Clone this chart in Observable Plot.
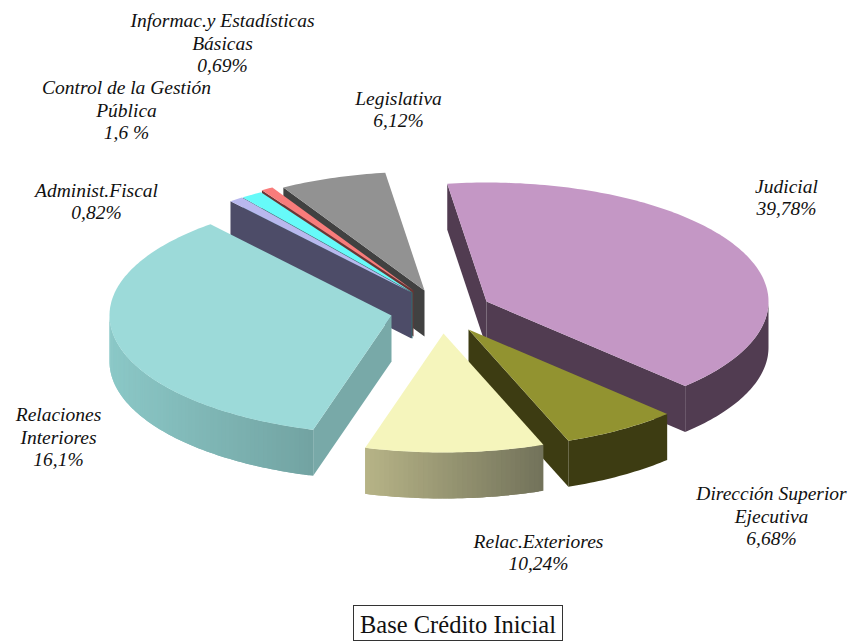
<!DOCTYPE html>
<html><head><meta charset="utf-8">
<script src="https://cdn.jsdelivr.net/npm/d3@7"></script>
<script src="https://cdn.jsdelivr.net/npm/@observablehq/plot@0.6"></script>
<style>
html,body{margin:0;padding:0;background:#fff;overflow:hidden}
#chart svg{display:block}
#cap{position:absolute;left:353px;top:605px;width:208px;height:34px;border:1px solid #333;font:24.5px "Liberation Serif",serif;color:#111;text-align:center;line-height:37px;white-space:nowrap}
</style></head><body>
<div id="chart"></div>
<div id="cap">Base Crédito Inicial</div>
<script>
// Data, clockwise from the first slice
const categories = ["Judicial","Dirección Superior Ejecutiva","Relac.Exteriores","Relaciones Interiores","Administ.Fiscal","Control de la Gestión Pública","Informac.y Estadísticas Básicas","Legislativa"];
const shares = [39.78, 6.68, 10.24, 34.43, 0.82, 1.24, 0.69, 6.12]; // drawn size of each slice
const labels = ["Judicial\n39,78%","Dirección Superior\nEjecutiva\n6,68%","Relac.Exteriores\n10,24%","Relaciones\nInteriores\n16,1%","Administ.Fiscal\n0,82%","Control de la Gestión\nPública\n1,6 %","Informac.y Estadísticas\nBásicas\n0,69%","Legislativa\n6,12%"];
// Styling and pie layout
const topColors = ["#C497C5","#929330","#F5F5BC","#9CDAD9","#B9B8EE","#66FAF9","#F97C7B","#929292"];
const cutColors = ["#513C51","#3D3C12","#72725A","#78A9A8","#4D4C68","#2C6F6F","#6C3534","#414141"];
const rimLeft   = ["#513C51","#3D3C12","#B7B487","#8BC8C7","#4D4C68","#2C6F6F","#6C3534","#414141"];
const rimRight  = ["#513C51","#3D3C12","#72725A","#72A3A2","#4D4C68","#2C6F6F","#6C3534","#414141"];
const explodeX = [55, 37, 12, -40, -20, -19, -18, -7];
const explodeY = [-11, 17, 21, 3, -20, -20, -22, -22];
const labelX = [786, 771, 538, 58, 96, 126, 222, 398];
const labelY = [196, 515, 551, 436, 200, 109, 42, 108];
const drawOrder = [7, 6, 5, 4, 3, 0, 1, 2];
const W = 854, H = 605, cx = 431, cy = 312, rx = 282, ry = 119, depth = 46, firstAngle = -8;

const total = d3.sum(shares);
let acc = firstAngle;
const slices = shares.map((v, i) => {
  const a0 = acc; acc += v / total * 360;
  return {i, a0, a1: acc, ax: cx + explodeX[i], ay: cy + explodeY[i]};
});
const sind = a => Math.sin(a * Math.PI / 180);
const rim = (s, a) => {
  const t = a * Math.PI / 180;
  return [s.ax + rx * Math.sin(t), s.ay - ry * Math.cos(t)];
};
const faces = [];
let fid = 0;
const addFace = (pts, color) => {
  const id = fid++;
  [...pts, pts[0]].forEach(([x, y]) => faces.push({id, x, y, color}));
};
const arcPts = (s, a0, a1) => {
  const n = Math.max(2, Math.ceil(Math.abs(a1 - a0)));
  return d3.range(n + 1).map(k => rim(s, a0 + (a1 - a0) * k / n));
};
const cutFace = (s, a, color) => {
  const [px, py] = rim(s, a);
  addFace([[s.ax, s.ay], [px, py], [px, py + depth], [s.ax, s.ay + depth]], color);
};
const wall = (pts, color) => addFace([...pts, ...pts.slice().reverse().map(([x, y]) => [x, y + depth])], color);
for (const i of drawOrder) {
  const s = slices[i];
  // only the cut faces that turn toward the viewer
  if (sind(s.a0) < 0) cutFace(s, s.a0, cutColors[i]);
  if (sind(s.a1) > 0) cutFace(s, s.a1, cutColors[i]);
  // outer wall (front half only), shaded left to right
  const lo = Math.max(s.a0, 90), hi = Math.min(s.a1, 270);
  if (hi > lo) {
    const pts = arcPts(s, lo, hi);
    if (rimLeft[i] === rimRight[i]) {
      wall(pts, rimLeft[i]);
    } else {
      const xs = pts.map(p => p[0]);
      const xMin = d3.min(xs), xMax = d3.max(xs);
      const mix = d3.interpolateRgb(rimLeft[i], rimRight[i]);
      // each strip overlaps the next so no seams show
      for (let k = 0; k < pts.length - 1; k++) {
        const strip = pts.slice(k, k + 3);
        const f = ((pts[k][0] + pts[k + 1][0]) / 2 - xMin) / (xMax - xMin);
        wall(strip, mix(f));
      }
    }
  }
  // top face
  addFace([[s.ax, s.ay], ...arcPts(s, s.a0, s.a1)], topColors[i]);
}
const labelRows = labels.map((text, i) => ({text, x: labelX[i], y: labelY[i], name: categories[i]}));

const plot = Plot.plot({
  width: W, height: H, margin: 0,
  x: {domain: [0, W], range: [0, W], axis: null},
  y: {domain: [0, H], range: [0, H], axis: null},
  color: {type: "identity"},
  marks: [
    Plot.line(faces, {x: "x", y: "y", z: "id", fill: "color", stroke: "none", curve: "linear"}),
    Plot.text(labelRows, {x: "x", y: "y", text: "text", fontFamily: "Liberation Serif", fontStyle: "italic", fontSize: 19.5, lineHeight: 1.14, fill: "#111", textAnchor: "middle", lineAnchor: "middle"})
  ]
});
document.getElementById("chart").append(plot);
</script>
</body></html>
